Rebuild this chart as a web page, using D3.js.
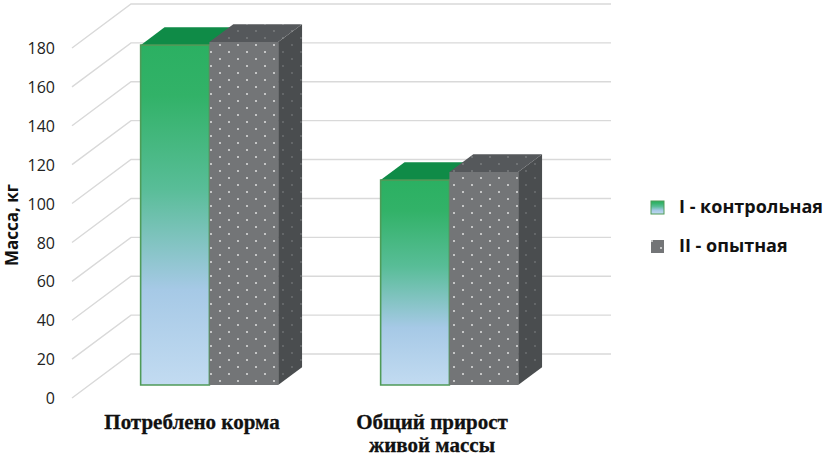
<!DOCTYPE html>
<html lang="ru">
<head>
<meta charset="UTF-8">
<title>Масса, кг</title>
<style>
html, body { margin: 0; padding: 0; background: #fff; }
svg { display: block; }
.tick-label { font-family: "Open Sans", sans-serif; font-weight: 400; font-size: 16px; fill: #222; }
</style>
</head>
<body>
<svg id="chart" width="824" height="457"></svg>
<script src="https://d3js.org/d3.v7.min.js"></script>
<script>
const categories = [["Потреблено корма"], ["Общий прирост", "живой массы"]];
const seriesNames = ["I - контрольная", "II - опытная"];
const control = [174.8, 105.4];
const experimental = [176.4, 109.5];
const yTicks = [0, 20, 40, 60, 80, 100, 120, 140, 160, 180];

const svg = d3.select("#chart");
const defs = svg.append("defs");

// depth of the 3d box, the floor runs this far up and right
const depthX = 59, depthY = 44;
const barFront = 0.295, barBack = 0.70;

const x = d3.scaleBand()
    .domain(d3.range(categories.length))
    .range([72, 552])
    .paddingInner(0.427)
    .paddingOuter(0.2135);
const bar = d3.scaleBand().domain([0, 1]).range([0, x.bandwidth()]);
const y = d3.scaleLinear().domain([0, 180]).range([398, 48]);

const pt = (px, v, d) => [px + d * depthX, y(v) - d * depthY];
const poly = pts => pts.map(p => p.join(",")).join(" ");

// green fill of the first series
const grad = defs.append("linearGradient")
    .attr("id", "green").attr("x1", 0).attr("y1", 0).attr("x2", 0).attr("y2", 1);
[[0, "#2bb062"], [0.15, "#32b268"], [0.42, "#58bd97"], [0.72, "#a6c9e6"], [1, "#c2dbf1"]]
    .forEach(s => grad.append("stop").attr("offset", s[0]).attr("stop-color", s[1]));

function dots(id, bg, dot, r) {
    const p = defs.append("pattern").attr("id", id)
        .attr("width", 18).attr("height", 14)
        .attr("patternUnits", "userSpaceOnUse");
    p.append("rect").attr("width", 18).attr("height", 14).attr("fill", bg);
    p.append("circle").attr("cx", 4).attr("cy", 3).attr("r", r).attr("fill", dot);
    p.append("circle").attr("cx", 13).attr("cy", 10).attr("r", r).attr("fill", dot);
}
dots("dotFront", "#737577", "#dfe0e0", 1);
dots("dotDark", "#4a4d4f", "#6f7274", 0.9);
dots("dotTop", "#55585b", "#7d8082", 0.9);

// grid: back wall and floor/side diagonals
const grid = svg.append("g").attr("stroke", "#d9d9d9").attr("stroke-width", 1.4).attr("fill", "none");
yTicks.forEach(t => {
    grid.append("polyline").attr("points", poly([pt(72, t, 0), pt(72, t, 1), pt(552, t, 1)]));
});

// value labels
svg.append("g")
    .attr("transform", "translate(55,0)")
    .call(d3.axisLeft(y).tickValues(yTicks).tickSize(0).tickPadding(0))
    .call(g => g.select(".domain").remove())
    .call(g => g.selectAll("text").attr("class", "tick-label").attr("fill", null).attr("dy", "0.35em"));

svg.append("text")
    .attr("transform", "translate(18.2,225) rotate(-90)")
    .attr("text-anchor", "middle")
    .attr("font-family", "'Open Sans', sans-serif")
    .attr("font-weight", 700).attr("font-size", 17).attr("fill", "#111")
    .text("Масса, кг");

// boxes, back to front inside each group
categories.forEach((c, i) => {
    const x0 = x(i);
    const drawBox = (s, v, frontFill, topFill, sideFill, border) => {
        const a = x0 + bar(s), b = a + bar.bandwidth();
        const g = svg.append("g");
        g.append("polygon").attr("fill", sideFill)
            .attr("points", poly([pt(b, 0, barFront), pt(b, 0, barBack), pt(b, v, barBack), pt(b, v, barFront)]));
        g.append("polygon").attr("fill", topFill)
            .attr("points", poly([pt(a, v, barFront), pt(b, v, barFront), pt(b, v, barBack), pt(a, v, barBack)]));
        g.append("polygon").attr("fill", frontFill)
            .attr("stroke", border).attr("stroke-width", border === "none" ? 0 : 1.6)
            .attr("points", poly([pt(a, 0, barFront), pt(b, 0, barFront), pt(b, v, barFront), pt(a, v, barFront)]));
    };
    drawBox(0, control[i], "url(#green)", "#0f8b47", "#0f8b47", "#4f9b58");
    drawBox(1, experimental[i], "url(#dotFront)", "url(#dotTop)", "url(#dotDark)", "none");

    const t = svg.append("text")
        .attr("text-anchor", "middle")
        .attr("font-family", "'Liberation Serif', serif")
        .attr("font-weight", 700).attr("font-size", 21).attr("fill", "#111")
        .attr("stroke", "#111").attr("stroke-width", 0.3);
    c.forEach((line, k) => t.append("tspan")
        .attr("x", x0 + x.bandwidth() / 2)
        .attr("y", 429 + k * 23)
        .text(line));
});

// legend
const legend = svg.append("g");
seriesNames.forEach((name, i) => {
    const ly = 207 + i * 39;
    legend.append("rect").attr("x", 651).attr("y", ly - 6).attr("width", 13).attr("height", 13)
        .attr("fill", i ? "url(#dotFront)" : "url(#green)")
        .attr("stroke", i ? "none" : "#4f9b58").attr("stroke-width", 1);
    legend.append("text").attr("x", 679).attr("y", ly + 6)
        .attr("font-family", "'Open Sans', sans-serif")
        .attr("font-weight", 700).attr("font-size", 18).attr("fill", "#111")
        .text(name);
});
</script>
</body>
</html>
